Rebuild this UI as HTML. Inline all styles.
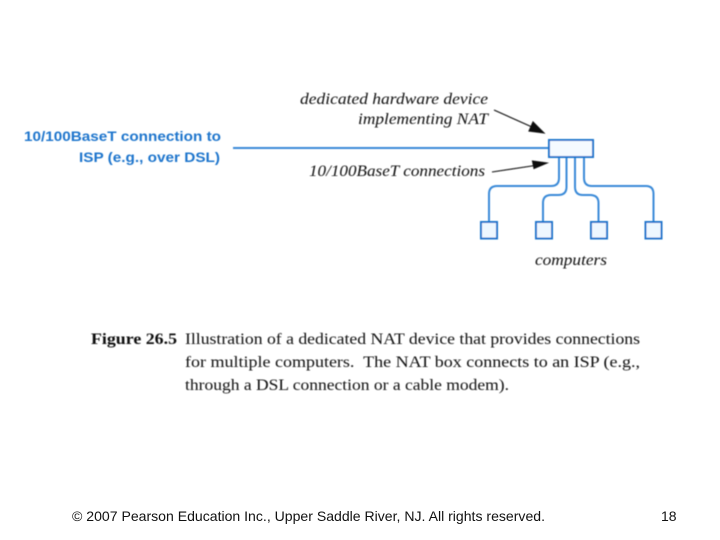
<!DOCTYPE html>
<html>
<head>
<meta charset="utf-8">
<style>
html,body{margin:0;padding:0;background:#fff;width:720px;height:540px;overflow:hidden}
svg{display:block}
.i{font-family:"Liberation Serif",serif;font-style:italic;font-size:15.5px;fill:#111}
.b{font-family:"Liberation Sans",sans-serif;font-weight:bold;font-size:14px;fill:#1f74cc}
.c{font-family:"Liberation Serif",serif;font-size:16px;fill:#111}
.f{font-family:"Liberation Sans",sans-serif;font-size:14px;fill:#111}
</style>
</head>
<body>
<svg width="720" height="540" viewBox="0 0 720 540" xmlns="http://www.w3.org/2000/svg">
<defs><filter id="s" x="-5%" y="-20%" width="110%" height="140%"><feGaussianBlur stdDeviation="0.4"/></filter></defs>
<g filter="url(#s)">
<text class="i" x="300" y="104" textLength="188" lengthAdjust="spacingAndGlyphs">dedicated hardware device</text>
<text class="i" x="358" y="124" textLength="130" lengthAdjust="spacingAndGlyphs">implementing NAT</text>
<text class="i" x="309" y="176" textLength="176" lengthAdjust="spacingAndGlyphs">10/100BaseT connections</text>
<text class="i" x="535" y="265" textLength="72" lengthAdjust="spacingAndGlyphs">computers</text>
<text class="b" x="24" y="141" textLength="197" lengthAdjust="spacingAndGlyphs">10/100BaseT connection to</text>
<text class="b" x="79" y="162" textLength="141" lengthAdjust="spacingAndGlyphs">ISP (e.g., over DSL)</text>
<text class="c" x="91" y="344" font-weight="bold" textLength="86" lengthAdjust="spacingAndGlyphs">Figure 26.5</text>
<text class="c" x="185" y="344" textLength="455" lengthAdjust="spacingAndGlyphs">Illustration of a dedicated NAT device that provides connections</text>
<text class="c" x="185" y="367" textLength="455" lengthAdjust="spacingAndGlyphs">for multiple computers.&#160; The NAT box connects to an ISP (e.g.,</text>
<text class="c" x="185" y="390" textLength="324" lengthAdjust="spacingAndGlyphs">through a DSL connection or a cable modem).</text>
<g fill="none" stroke="#3a8ad8" stroke-width="2">
<path d="M233 148H549"/>
<path d="M559 157V178Q559 186 551 186H497Q489 186 489 194V222"/>
<path d="M566.5 157V187Q566.5 195 558 195H551Q543 195 543 203V222"/>
<path d="M575 157V187Q575 195 583 195H590Q598.5 195 598.5 203V222"/>
<path d="M584 157V178Q584 186 592 186H646Q653.5 186 653.5 194V222"/>
</g>
<rect x="549" y="140" width="44" height="17" fill="#f5faff" stroke="#1f74cc" stroke-width="2"/>
<g fill="#eef7ff" stroke="#1f74cc" stroke-width="2">
<rect x="481" y="222" width="16" height="16.500"/>
<rect x="536" y="222" width="16" height="16.500"/>
<rect x="591" y="222" width="16" height="16.500"/>
<rect x="645.500" y="222" width="16" height="16.500"/>
</g>
<g stroke="#111" stroke-width="1.100" fill="#111">
<path d="M494 110L532 127" fill="none"/>
<path d="M544 133L529 131L533 122Z"/>
<path d="M492 172L535 165.500" fill="none"/>
<path d="M547 163L534 168.500L532.500 161Z"/>
</g>
</g>
<text class="f" x="72" y="521" textLength="473" lengthAdjust="spacingAndGlyphs">© 2007 Pearson Education Inc., Upper Saddle River, NJ. All rights reserved.</text>
<text class="f" x="661" y="521">18</text>
</svg>
</body>
</html>
